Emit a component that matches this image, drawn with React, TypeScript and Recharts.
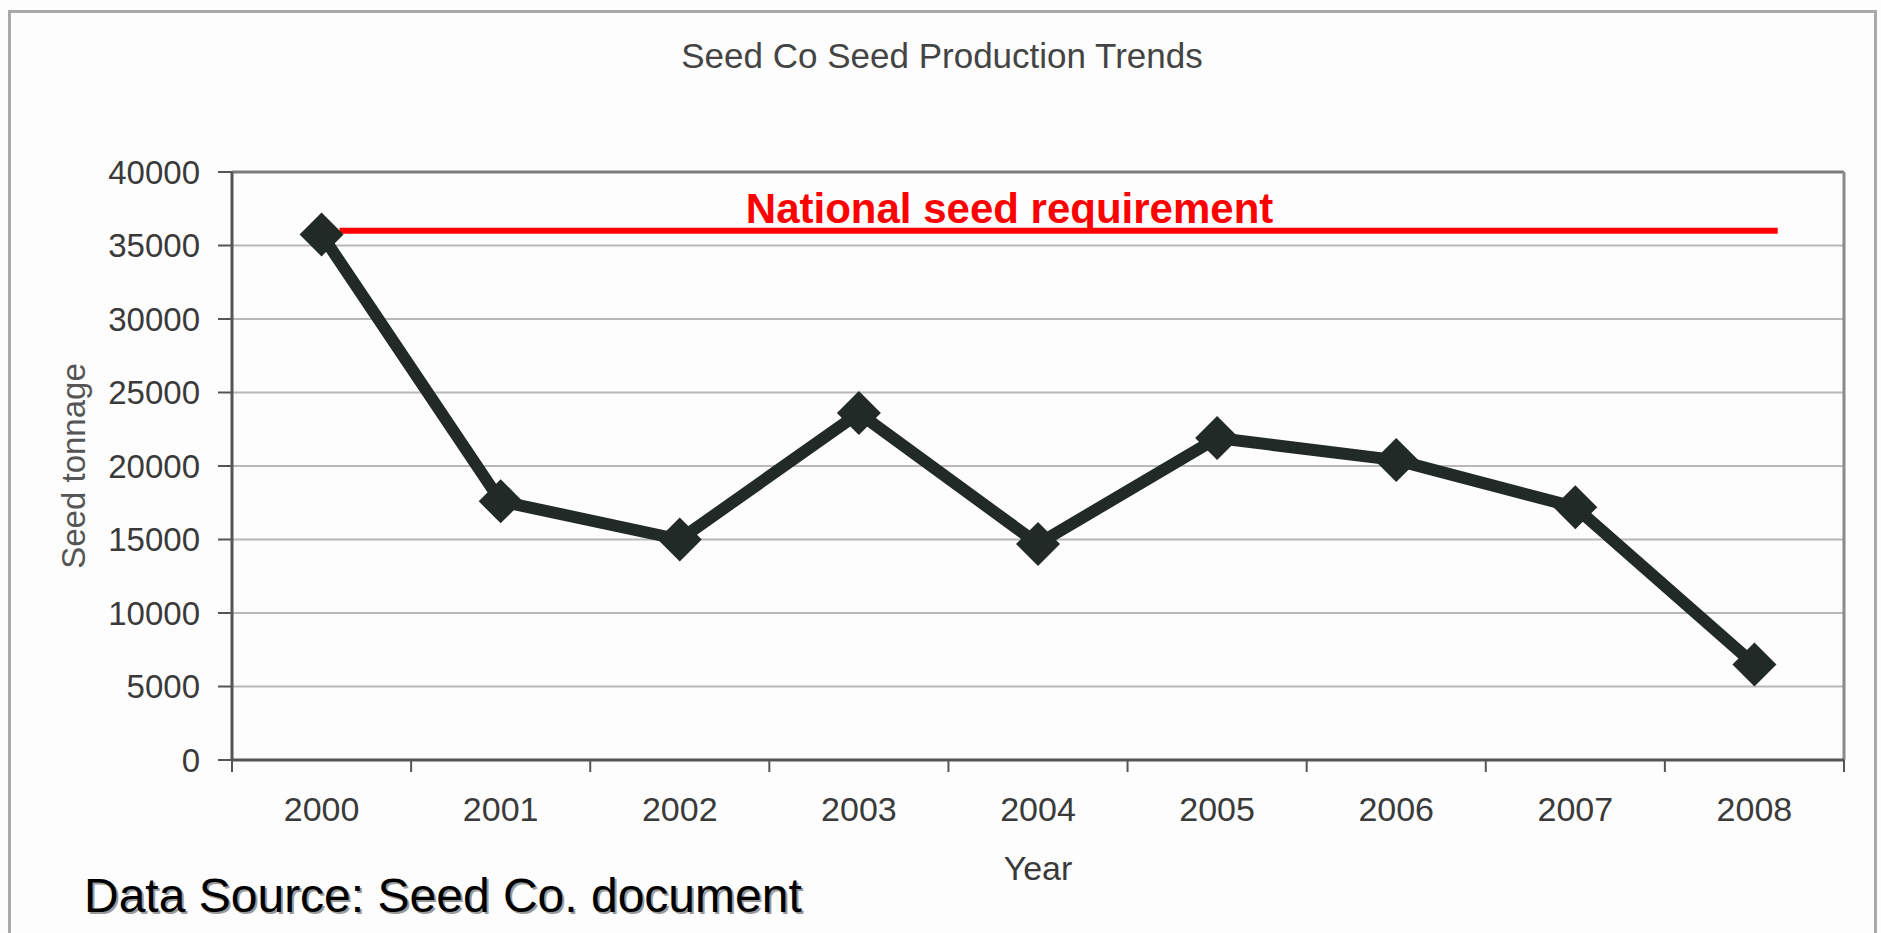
import React from 'react';
import { LineChart, Line, XAxis, YAxis, CartesianGrid, ReferenceLine } from 'recharts';

const years = [2000, 2001, 2002, 2003, 2004, 2005, 2006, 2007, 2008];
const tonnage = [35750, 17600, 15000, 23600, 14700, 21900, 20400, 17200, 6500];
const yTicks = [0, 5000, 10000, 15000, 20000, 25000, 30000, 35000, 40000];
const nationalRequirement = 36000;
const requirementSpan = [2000.1, 2008.13];

const data = years.map((year, i) => ({ year, tonnage: tonnage[i] }));
// labels on whole years, small tick marks half way between them
const xTicks = years.flatMap((y) => [y - 0.5, y]).concat(years[years.length - 1] + 0.5);

const font = '"Liberation Sans", Arial, sans-serif';
const ink = '#222a27';

function YearTick(props: any) {
    const { x, y, payload } = props;
    const v = payload.value;
    if (!Number.isInteger(v)) {
        return <line x1={x} x2={x} y1={y} y2={y + 12} stroke="#555" strokeWidth={2} />;
    }
    return (
        <text x={x} y={y + 37} dy="0.71em" textAnchor="middle" fill="#3a3a3a" fontSize={34} fontFamily={font}>
            {v}
        </text>
    );
}

function Diamond(props: any) {
    const { cx, cy } = props;
    if (cx == null || cy == null) return null;
    const r = 22;
    return <polygon points={`${cx},${cy - r} ${cx + r},${cy} ${cx},${cy + r} ${cx - r},${cy}`} fill={ink} />;
}

export default function App() {
    return (
        <div style={{ position: 'absolute', left: 0, top: 0, width: 1881, height: 933, background: '#fdfdfd', overflow: 'hidden' }}>
            <div style={{ position: 'absolute', left: 8, top: 10, width: 1863, height: 940, border: '3px solid #a9a9a9' }} />
            <LineChart
                width={1881}
                height={933}
                data={data}
                margin={{ top: 172, right: 37, bottom: 53, left: 72 }}
            >
                <CartesianGrid vertical={false} stroke="#b8b8bc" strokeWidth={2} />
                <XAxis
                    dataKey="year"
                    type="number"
                    domain={[1999.5, 2008.5]}
                    ticks={xTicks}
                    interval={0}
                    tickLine={false}
                    tickSize={0}
                    tickMargin={0}
                    tick={<YearTick />}
                    height={120}
                    axisLine={{ stroke: '#555', strokeWidth: 3 }}
                    label={{ value: 'Year', position: 'insideBottom', offset: 0, fill: '#3a3a3a', fontSize: 34, fontFamily: font }}
                />
                <YAxis
                    type="number"
                    domain={[0, 40000]}
                    ticks={yTicks}
                    interval={0}
                    width={160}
                    tickSize={14}
                    tickMargin={18}
                    tickLine={{ stroke: '#555', strokeWidth: 2 }}
                    axisLine={{ stroke: '#555', strokeWidth: 3 }}
                    tick={{ fill: '#3a3a3a', fontSize: 33, fontFamily: font }}
                    label={{
                        value: 'Seed tonnage',
                        angle: -90,
                        position: 'insideLeft',
                        offset: 1,
                        textAnchor: 'middle',
                        fill: '#555',
                        fontSize: 33,
                        fontFamily: font,
                    }}
                />
                <ReferenceLine y={40000} stroke="#7c7c7c" strokeWidth={3} />
                <ReferenceLine x={2008.5} stroke="#8a8a8a" strokeWidth={3} />
                <ReferenceLine
                    segment={[
                        { x: requirementSpan[0], y: nationalRequirement },
                        { x: requirementSpan[1], y: nationalRequirement },
                    ]}
                    stroke="#ff0000"
                    strokeWidth={6}
                    label={{
                        value: 'National seed requirement',
                        position: 'top',
                        offset: 8,
                        dx: -49,
                        fill: '#ff0000',
                        fontSize: 42,
                        fontWeight: 'bold',
                        fontFamily: font,
                    }}
                />
                <Line
                    type="linear"
                    dataKey="tonnage"
                    stroke={ink}
                    strokeWidth={12}
                    strokeLinejoin="round"
                    dot={(p: any) => <Diamond key={p.index} {...p} />}
                    activeDot={false}
                    isAnimationActive={false}
                />
            </LineChart>
            <svg width={1881} height={933} style={{ position: 'absolute', left: 0, top: 0, pointerEvents: 'none' }}>
                <text x={942} y={68} textAnchor="middle" fill="#444" fontSize={35} fontFamily={font}>
                    Seed Co Seed Production Trends
                </text>
                <text x={86} y={914} fill="#9a9a9a" fontSize={48} fontFamily={font}>
                    Data Source: Seed Co. document
                </text>
                <text x={84} y={912} fill="#000" fontSize={48} fontFamily={font}>
                    Data Source: Seed Co. document
                </text>
            </svg>
        </div>
    );
}
